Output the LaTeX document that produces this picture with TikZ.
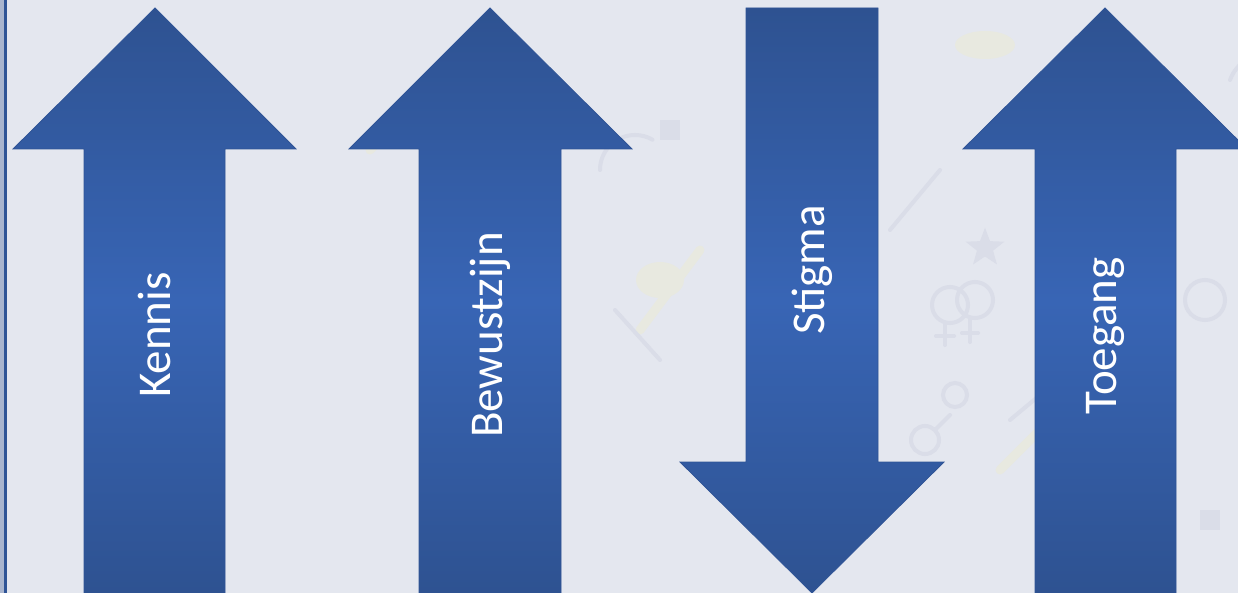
\documentclass[tikz,border=0pt]{standalone}
\usepackage{fontspec}
\setmainfont{Carlito}
\usetikzlibrary{positioning,shapes.geometric}

\definecolor{pagebg}{RGB}{228,231,239}
\definecolor{stripbg}{RGB}{169,181,206}
\definecolor{arrowdark}{RGB}{46,82,145}
\definecolor{arrowlight}{RGB}{56,101,181}
\definecolor{arrowedge}{RGB}{47,84,150}
\definecolor{markgray}{RGB}{218,221,232}
\definecolor{markyellow}{RGB}{232,233,224}

\begin{document}
\begin{tikzpicture}[x=1pt,y=-1pt,
    arrowbody/.style={draw=arrowedge, line width=0.8pt, top color=arrowdark,
        bottom color=arrowdark, middle color=arrowlight},
    arrowlabel/.style={text=white, rotate=90, inner sep=0pt,
        font=\fontsize{47}{56}\selectfont},
    iconline/.style={draw=markgray, line width=4pt, line cap=round}]
        % page and left border
        \fill[pagebg] (0,0) rectangle (1238,593);
        \useasboundingbox (0,0) rectangle (1238,593);
        \fill[stripbg] (0,0) rectangle (4,593);
        \fill[arrowedge] (4,0) rectangle (7,593);
        % faint icons in the background
        \draw[markyellow, line width=9pt, line cap=round] (640,330) -- (700,250);
        \draw[markyellow, line width=9pt, line cap=round] (1000,470) -- (1040,430);
        \draw[markyellow, line width=9pt, line cap=round] (370,150) -- (400,120);
        \fill[markyellow] (985,45) ellipse (30 and 14);
        \fill[markyellow] (1080,180) ellipse (26 and 20);
        \fill[markyellow] (660,280) ellipse (24 and 18);
        \draw[iconline] (950,305) circle (18) (975,300) circle (18);
        \draw[iconline] (945,323) -- (945,345) (936,336) -- (954,336);
        \draw[iconline] (970,318) -- (970,342) (962,333) -- (978,333);
        \draw[iconline] (925,440) circle (14) (935,430) -- (950,415);
        \draw[iconline] (955,395) circle (12);
        \draw[iconline] (890,230) -- (940,170);
        \draw[iconline] (770,215) arc (180:260:45);
        \draw[iconline] (1205,300) circle (20);
        \draw[iconline] (1230,80) arc (200:280:40);
        \draw[iconline] (600,170) arc (180:300:35);
        \node[star, star points=5, star point ratio=2.4, fill=markgray, inner sep=6pt] (starmark) at (985,248) {};
        \draw[iconline] (615,310) -- (660,360);
        \draw[iconline] (1010,420) -- (1040,395);
        \fill[markgray] (660,120) rectangle (680,140);
        \fill[markgray] (1200,510) rectangle (1220,530);

        % arrow 1: Kennis (up)
        \path[arrowbody] (155,8) -- (296,149) -- (225,149) -- (225,594)
            -- (84,594) -- (84,149) -- (13,149) -- cycle;
        \node[arrowlabel] (kennis) at (155,335) {Kennis};
        % arrow 2: Bewustzijn (up)
        \path[arrowbody] (490,8) -- (632,149) -- (561,149) -- (561,594)
            -- (419,594) -- (419,149) -- (349,149) -- cycle;
        \node[arrowlabel] (bewustzijn) at (490,335) {Bewustzijn};
        % arrow 3: Stigma (down)
        \path[arrowbody] (746,8) -- (878,8) -- (878,462) -- (944,462)
            -- (812,593) -- (680,462) -- (746,462) -- cycle;
        \node[arrowlabel] (stigma) at (812,270) {Stigma};
        % arrow 4: Toegang (up)
        \path[arrowbody] (1105,8) -- (1247,149) -- (1176,149) -- (1176,594)
            -- (1035,594) -- (1035,149) -- (963,149) -- cycle;
        \node[arrowlabel] (toegang) at (1105,336) {Toegang};
\end{tikzpicture}
\end{document}
